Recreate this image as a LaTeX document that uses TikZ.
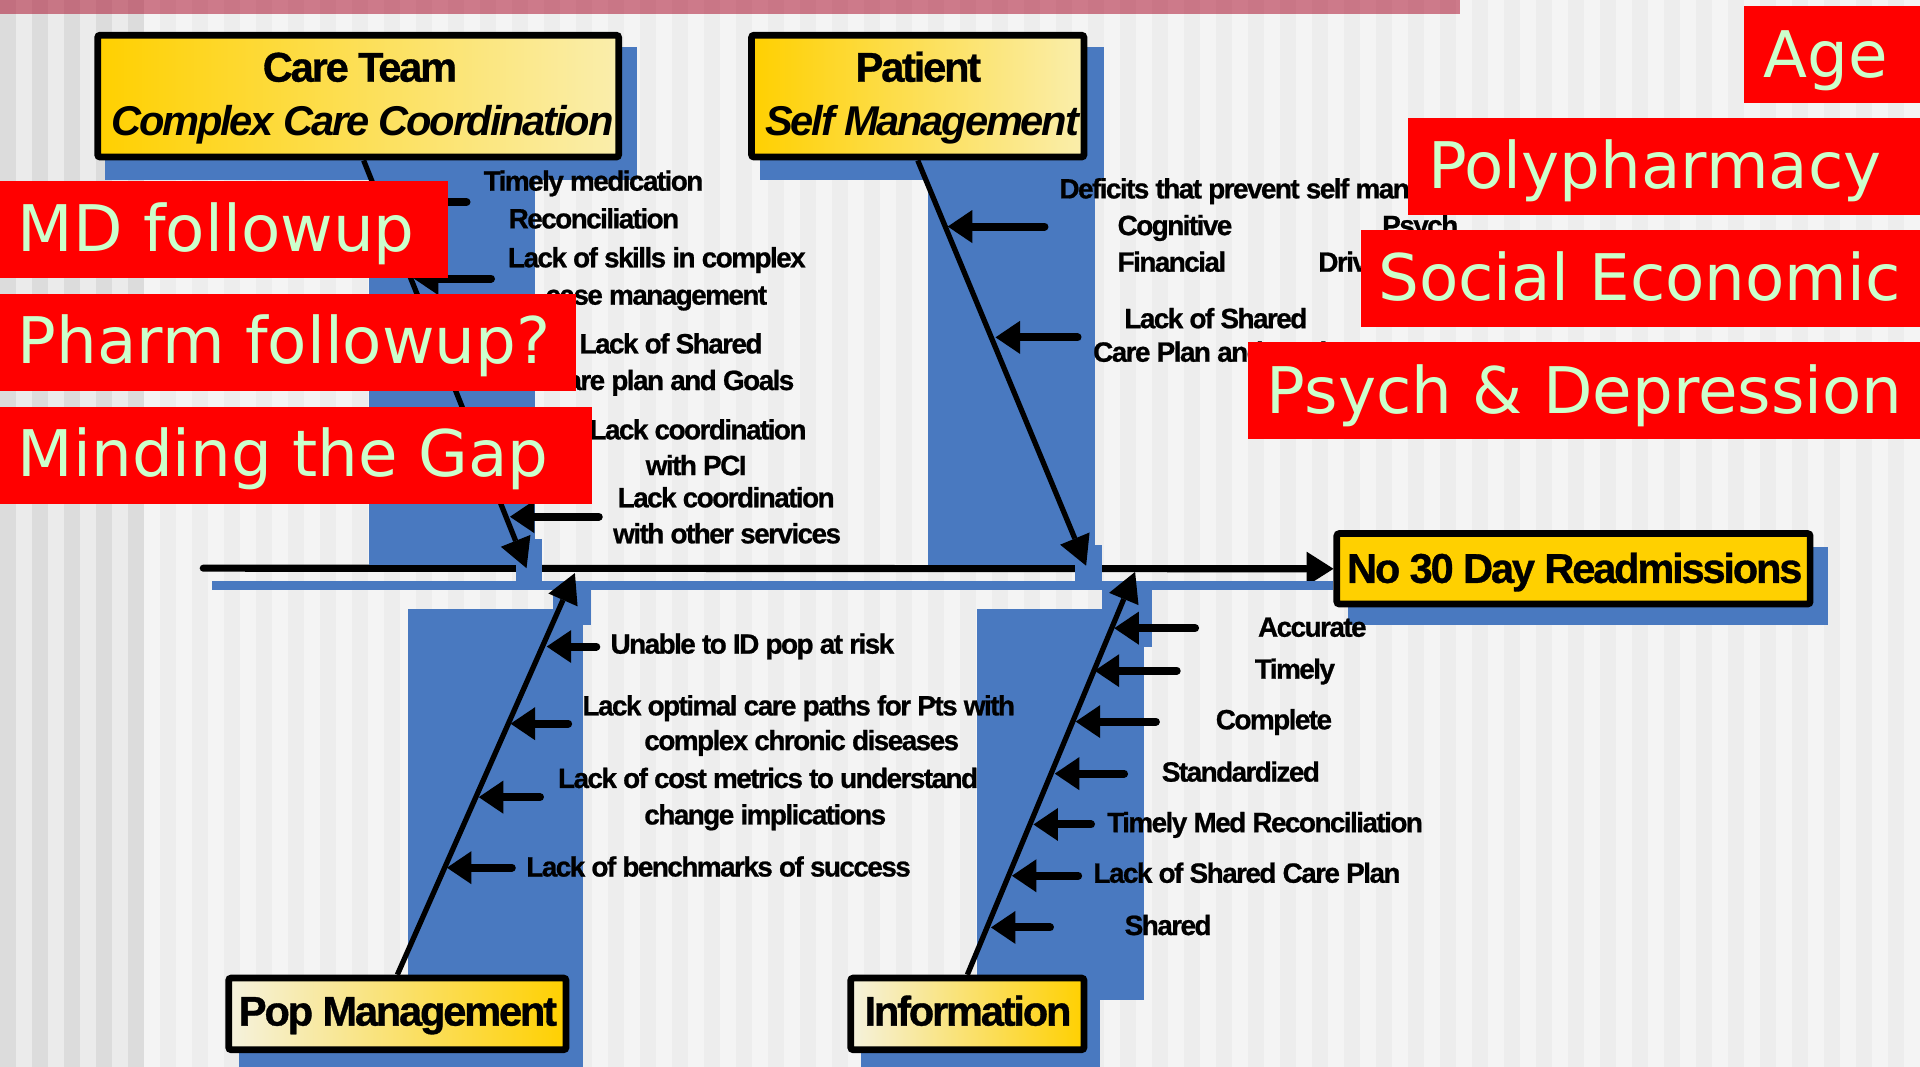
\documentclass[tikz,border=0pt]{standalone}
\usepackage{fontspec}
\usetikzlibrary{arrows.meta}

\newfontfamily\lblfont{Liberation Sans}[LetterSpace=-5.3, BoldFeatures={FakeBold=0.8}]
\newfontfamily\causefont{Liberation Sans}[LetterSpace=-5.6, BoldFeatures={FakeBold=0.8}]
\newfontfamily\tagfont{DejaVu Sans}

\definecolor{stripeA}{RGB}{244,244,244}
\definecolor{stripeB}{RGB}{237,237,237}
\definecolor{stripeC}{RGB}{220,220,220}
\definecolor{stripeD}{RGB}{235,235,235}
\definecolor{bandpink}{RGB}{173,22,51}
\definecolor{shadowblue}{RGB}{73,121,192}
\definecolor{boxgold}{RGB}{255,208,0}
\definecolor{boxmid}{RGB}{252,226,120}
\definecolor{boxpale}{RGB}{250,238,172}
\definecolor{boxcream}{RGB}{245,242,222}
\definecolor{tagred}{RGB}{255,0,0}
\definecolor{tagtext}{RGB}{204,255,204}

\pgfdeclarelayer{backdrop}
\pgfdeclarelayer{spinelayer}
\pgfdeclarelayer{shadows}
\pgfdeclarelayer{tags}
\pgfsetlayers{backdrop,spinelayer,shadows,main,tags}

\tikzset{
  catbox/.style={draw=black, line width=5.5pt, rounded corners=2pt, inner sep=0pt},
  warmbox/.style={catbox, left color=boxgold, middle color=boxmid, right color=boxpale},
  coolbox/.style={catbox, left color=boxcream, middle color=boxmid, right color=boxgold},
  goalbox/.style={catbox, fill=boxgold},
  title/.style={font=\lblfont\bfseries\fontsize{34}{36}\selectfont, inner sep=0pt, anchor=base},
  titleit/.style={font=\lblfont\bfseries\itshape\fontsize{34}{36}\selectfont, inner sep=0pt, anchor=base},
  cause/.style={font=\causefont\bfseries\fontsize{22.8}{24}\selectfont, inner sep=0pt, anchor=base},
  causeL/.style={cause, anchor=base west},
  tag/.style={fill=tagred, inner sep=0pt, anchor=north west},
  tagword/.style={font=\tagfont\fontsize{52.5}{55}\selectfont, text=tagtext, inner sep=0pt, anchor=base west},
  spine/.style={line width=5.8pt, line cap=round, -{Triangle[length=22pt,width=28pt,line width=0pt]}},
  bone/.style={line width=4.3pt, -{Triangle[length=24pt,width=26pt,line width=0pt]}},
  twig/.style={line width=6.5pt, line cap=round, -{Triangle[length=20pt,width=27pt,line width=0pt]}},
}

\begin{document}
\begin{tikzpicture}[x=1pt,y=-1pt]
\useasboundingbox (0,0) rectangle (1568,871);

% ---------- category boxes ----------
\node[warmbox, minimum width=425.5pt, minimum height=99.5pt] (care) at (292.5,78.5) {};
\node[warmbox, minimum width=271.5pt, minimum height=99.5pt] (patient) at (749.5,78.5) {};
\node[goalbox, minimum width=386.5pt, minimum height=57.5pt] (readm) at (1285,464.5) {};
\node[coolbox, minimum width=275.5pt, minimum height=58.5pt] (pop) at (324.5,828) {};
\node[coolbox, minimum width=190.5pt, minimum height=58.5pt] (info) at (790,828) {};

\node[title] (careA) at (294,66.7) {Care Team};
\node[titleit] (careB) at (296,111) {Complex Care Coordination};
\node[title] (patA) at (750,66.7) {Patient};
\node[titleit] (patB) at (753,111) {Self Management};
\node[title] (readmT) at (1286,476) {No 30 Day Readmissions};
\node[title] (popT) at (325,837.6) {Pop Management};
\node[title] (infoT) at (790.5,837.6) {Information};

% ---------- striped backdrop ----------
\begin{pgfonlayer}{backdrop}
  \fill[stripeA] (0,0) rectangle (1568,871);
  \foreach \i in {0,2,...,118}
    \fill[stripeB] ({\i*13.0667},0) rectangle ({(\i+1)*13.0667},871);
  \foreach \i in {0,2,...,8}
    \fill[stripeC] ({\i*13.0667},0) rectangle ({(\i+1)*13.0667},871);
  \foreach \i in {1,3,5,7}
    \fill[stripeD] ({\i*13.0667},0) rectangle ({(\i+1)*13.0667},871);
  \fill[bandpink, fill opacity=0.55] (0,0) rectangle (1192,11.4);
\end{pgfonlayer}

% ---------- main spine ----------
\coordinate (spineL) at (166,464);
\begin{pgfonlayer}{spinelayer}
  \draw[spine] (spineL) -- (readm.west);
\end{pgfonlayer}

% ---------- blue shadows ----------
\begin{pgfonlayer}{shadows}
  \fill[shadowblue] (86,38) rectangle (520,147);
  \fill[shadowblue] (621,38) rectangle (901.5,147);
  \fill[shadowblue] (301,131) rectangle (437,461);
  \fill[shadowblue] (421,440) rectangle (443,475);
  \fill[shadowblue] (758,131) rectangle (894,461);
  \fill[shadowblue] (878,445) rectangle (900,475);
  \fill[shadowblue] (173,474.5) rectangle (1089,482);
  \fill[shadowblue] (1101,447) rectangle (1493,510);
  \fill[shadowblue] (452,481) rectangle (483,510);
  \fill[shadowblue] (333,497) rectangle (476,810);
  \fill[shadowblue] (195,808) rectangle (476,871);
  \fill[shadowblue] (900,481) rectangle (941,528);
  \fill[shadowblue] (798,497) rectangle (934,817);
  \fill[shadowblue] (703,808) rectangle (898,871);
\end{pgfonlayer}

% ---------- bones ----------
\coordinate (careTip) at (430,464);
\coordinate (patTip) at (887,462);
\coordinate (popTip) at (469.5,468);
\coordinate (infoTip) at (927,467);
\draw[bone] ([xshift=4.5pt]care.south) -- (careTip);
\draw[bone] (patient.south) -- (patTip);
\draw[bone] (pop.north) -- (popTip);
\draw[bone] (info.north) -- (infoTip);

% ---------- small cause arrows ----------
\foreach \nm/\tx/\hx/\yy in {
  c1/381/313/165, c2/401/338/227.5, c3/489/416.5/422,
  p1/853/774/185, p2/880/813/275.5,
  q1/487/446.5/528, q2/464/417/591, q3/441/391/651, q4/418/365/708.6,
  i1/976/910/513, i2/961/894/547.7, i3/944/878.5/589.3, i4/918/861.4/631.8,
  i5/891/844/673.3, i6/880.5/826.4/715.2, i7/857.5/809.3/757.4} {
  \coordinate (\nm t) at (\tx,\yy);
  \coordinate (\nm h) at (\hx,\yy);
  \draw[twig] (\nm t) -- (\nm h);
}

% ---------- cause labels ----------
\node[cause] (lc1a) at (484.7,155.7) {Timely medication};
\node[cause] (lc1b) at (485,186.5) {Reconciliation};
\node[cause] (lc2a) at (536.4,218.3) {Lack of skills in complex};
\node[cause] (lc2b) at (536,248.8) {case management};
\node[cause] (lc3a) at (548,288.6) {Lack of Shared};
\node[cause] (lc3b) at (548,318.5) {Care plan and Goals};
\node[cause] (lc4a) at (570,358.8) {Lack coordination};
\node[cause] (lc4b) at (568.5,388) {with PCI};
\node[cause] (lc5a) at (593,414.3) {Lack coordination};
\node[cause] (lc5b) at (593.8,443.7) {with other services};

\node[causeL] (lp1) at (865,162) {Deficits that prevent self management};
\node[causeL] (lp2) at (912.5,192) {Cognitive};
\node[causeL] (lp3) at (1128.6,192) {Psych};
\node[causeL] (lp4) at (912.5,221.9) {Financial};
\node[causeL] (lp5) at (1076.4,221.9) {Driving};
\node[causeL] (lp6) at (918,268) {Lack of Shared};
\node[causeL] (lp7) at (892.5,295.4) {Care Plan and Goals};

\node[causeL] (lq1) at (498.4,533.8) {Unable to ID pop at risk};
\node[causeL] (lq2) at (475.5,584.2) {Lack optimal care paths for Pts with};
\node[causeL] (lq3) at (526,612.6) {complex chronic diseases};
\node[causeL] (lq4) at (455.5,643.5) {Lack of cost metrics to understand};
\node[causeL] (lq5) at (526,673.3) {change implications};
\node[causeL] (lq6) at (429.6,715.8) {Lack of benchmarks of success};

\node[causeL] (li1) at (1027.2,520) {Accurate};
\node[causeL] (li2) at (1024.6,554.3) {Timely};
\node[causeL] (li3) at (992.7,595.6) {Complete};
\node[causeL] (li4) at (948.6,638.3) {Standardized};
\node[causeL] (li5) at (904,679.6) {Timely Med Reconciliation};
\node[causeL] (li6) at (892.8,720.9) {Lack of Shared Care Plan};
\node[causeL] (li7) at (918.3,763.6) {Shared};

% ---------- red tags ----------
\begin{pgfonlayer}{tags}
  \node[tag, minimum width=366pt, minimum height=79pt] (mdTag) at (0,148) {};
  \node[tagword] (mdWord) at (14.5,205.5) {MD followup};
  \node[tag, minimum width=470pt, minimum height=79pt] (pharmTag) at (0,240) {};
  \node[tagword] (pharmWord) at (14.5,296.8) {Pharm followup?};
  \node[tag, minimum width=483pt, minimum height=79pt] (gapTag) at (0,332) {};
  \node[tagword] (gapWord) at (14.5,389) {Minding the Gap};
  \node[tag, minimum width=144pt, minimum height=79pt] (ageTag) at (1424,5) {};
  \node[tagword] (ageWord) at (1440,63) {Age};
  \node[tag, minimum width=418pt, minimum height=79pt] (polyTag) at (1150,96) {};
  \node[tagword] (polyWord) at (1166,153.8) {Polypharmacy};
  \node[tag, minimum width=457pt, minimum height=79pt] (socTag) at (1111,188) {};
  \node[tagword] (socWord) at (1125.5,245) {Social Economic};
  \node[tag, minimum width=549pt, minimum height=79pt] (psyTag) at (1019,279.5) {};
  \node[tagword] (psyWord) at (1034.5,337.5) {Psych \& Depression};
\end{pgfonlayer}
\end{tikzpicture}
\end{document}
